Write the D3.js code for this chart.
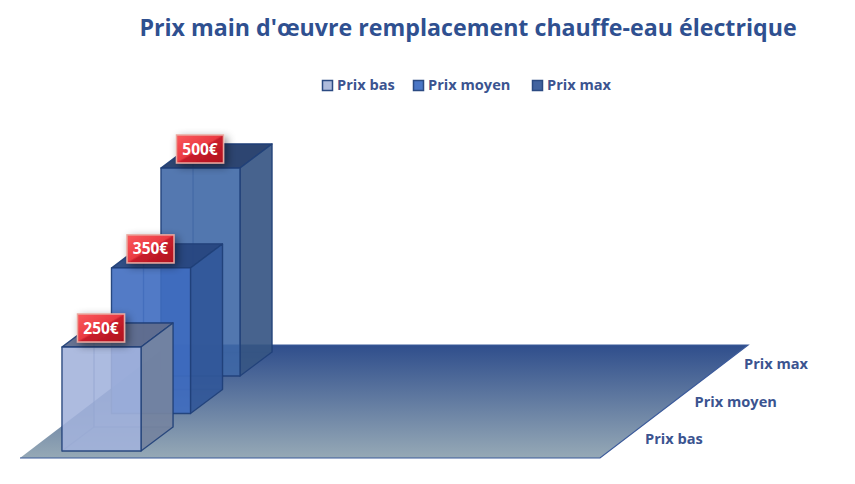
<!DOCTYPE html>
<html>
<head>
<meta charset="utf-8">
<script src="https://cdn.jsdelivr.net/npm/d3@7"></script>
<style>
  html, body { margin: 0; padding: 0; background: #fff; }
  svg { display: block; }
  text { font-family: "Open Sans", sans-serif; font-weight: 700; }
</style>
</head>
<body>
<div id="chart"></div>
<script>
var chartTitle = "Prix main d'œuvre remplacement chauffe-eau électrique";
var series = ["Prix bas", "Prix moyen", "Prix max"];
var values = [250, 350, 500];
var labels = ["250€", "350€", "500€"];

var width = 855, height = 484;
var titleColor = "#2f5090";
var textColor = "#3b5490";
var edgeColor = "#1f3f78";
var boxW = 79;     // front face width
var depthX = 32, depthY = 24;   // how far a box goes back

// face colours per series, [front, side, top]
var faces = {
    "Prix bas": ["#a3b3dc", "#74839f", "#5f6b8c"],
    "Prix moyen": ["#3d6bbf", "#315798", "#274680"],
    "Prix max": ["#3f68a6", "#365583", "#243c6a"]
};
var swatch = {"Prix bas": "#aebbdc", "Prix moyen": "#4a76c6", "Prix max": "#42639f"};

// depth scales: where the front of each box stands on the floor
var xDepth = d3.scalePoint().domain(series).range([62, 161]);
var yDepth = d3.scalePoint().domain(series).range([451, 376]);
// height in px of a box
var h = d3.scaleLinear().domain([0, 500]).range([0, 208]);

var svg = d3.select("#chart").append("svg")
    .attr("width", width)
    .attr("height", height);

var defs = svg.append("defs");

var floorGrad = defs.append("linearGradient")
    .attr("id", "floorGrad")
    .attr("x1", 0).attr("y1", 0).attr("x2", 0).attr("y2", 1);
floorGrad.append("stop").attr("offset", "0%").attr("stop-color", "#2f4e8c");
floorGrad.append("stop").attr("offset", "100%").attr("stop-color", "#96a9b6");

var redGrad = defs.append("linearGradient")
    .attr("id", "redGrad")
    .attr("x1", 0).attr("y1", 0).attr("x2", 1).attr("y2", 1);
redGrad.append("stop").attr("offset", "0%").attr("stop-color", "#fb5a5c");
redGrad.append("stop").attr("offset", "48%").attr("stop-color", "#ea3a42");
redGrad.append("stop").attr("offset", "52%").attr("stop-color", "#c91f2c");
redGrad.append("stop").attr("offset", "100%").attr("stop-color", "#ae0f1e");

var shadow = defs.append("filter").attr("id", "labelShadow")
    .attr("x", "-40%").attr("y", "-40%").attr("width", "180%").attr("height", "180%");
shadow.append("feDropShadow")
    .attr("dx", 3).attr("dy", 3).attr("stdDeviation", 4)
    .attr("flood-color", "#000").attr("flood-opacity", 0.45);

// title
svg.append("text")
    .attr("x", 468).attr("y", 36)
    .attr("text-anchor", "middle")
    .attr("font-size", 23.2)
    .attr("fill", titleColor)
    .text(chartTitle);

// legend
var legendX = [322, 413, 532];
var legend = svg.append("g").selectAll("g")
    .data(series)
    .enter().append("g")
    .attr("transform", function (d, i) { return "translate(" + legendX[i] + ",80)"; });
legend.append("rect")
    .attr("x", 0.5).attr("y", 0.5)
    .attr("width", 10).attr("height", 10)
    .attr("fill", function (d) { return swatch[d]; })
    .attr("stroke", "#2b4a82")
    .attr("stroke-width", 1.5);
legend.append("text")
    .attr("x", 15).attr("y", 10)
    .attr("font-size", 14.6)
    .attr("fill", textColor)
    .text(function (d) { return d; });

// floor
svg.append("polygon")
    .attr("points", "20,458 600,458 748,345 168,345")
    .attr("fill", "url(#floorGrad)");
svg.append("path")
    .attr("d", "M20,458 L600,458 L748,345 L168,345")
    .attr("fill", "none")
    .attr("stroke", "#3b5a9a")
    .attr("stroke-width", 1.2);

// category labels next to the floor
svg.append("g").selectAll("text")
    .data(series)
    .enter().append("text")
    .attr("x", function (d) { return xDepth(d) + 583; })
    .attr("y", function (d) { return yDepth(d) - 7; })
    .attr("font-size", 14.6)
    .attr("fill", textColor)
    .text(function (d) { return d; });

// boxes, back one first
var order = d3.range(series.length).reverse();
function poly(g, pts, fill, op, edge) {
    g.append("polygon")
        .attr("points", pts.map(function (p) { return p.join(","); }).join(" "))
        .attr("fill", fill)
        .attr("fill-opacity", op)
        .attr("stroke", edgeColor)
        .attr("stroke-opacity", edge)
        .attr("stroke-width", 1.3)
        .attr("stroke-linejoin", "round");
}
order.forEach(function (i) {
    var s = series[i];
    var x0 = xDepth(s), x1 = x0 + boxW;
    var yb = yDepth(s), yt = yb - h(values[i]);
    var g = svg.append("g");
    // hidden faces seen through the glass
    poly(g, [[x0 + depthX, yb - depthY], [x1 + depthX, yb - depthY], [x1 + depthX, yt - depthY], [x0 + depthX, yt - depthY]], faces[s][0], 0.2, 0.35);
    poly(g, [[x0, yb], [x0 + depthX, yb - depthY], [x0 + depthX, yt - depthY], [x0, yt]], faces[s][1], 0.1, 0.35);
    // visible faces
    poly(g, [[x0, yt], [x1, yt], [x1 + depthX, yt - depthY], [x0 + depthX, yt - depthY]], faces[s][2], 0.95, 0.9);
    poly(g, [[x1, yb], [x1 + depthX, yb - depthY], [x1 + depthX, yt - depthY], [x1, yt]], faces[s][1], 0.9, 0.9);
    poly(g, [[x0, yb], [x1, yb], [x1, yt], [x0, yt]], faces[s][0], 0.88, 0.9);
});

// value labels
var lab = svg.append("g").selectAll("g")
    .data(series)
    .enter().append("g")
    .attr("transform", function (d, i) {
        return "translate(" + (xDepth(d) + 39) + "," + (yDepth(d) - h(values[i]) - 19) + ")";
    });
lab.append("rect")
    .attr("x", -23.5).attr("y", -14)
    .attr("width", 47).attr("height", 28)
    .attr("fill", "url(#redGrad)")
    .attr("stroke", "#e8a9a0")
    .attr("stroke-width", 1.5)
    .attr("filter", "url(#labelShadow)");
lab.append("text")
    .attr("text-anchor", "middle")
    .attr("y", 5.5)
    .attr("font-size", 15.5)
    .attr("fill", "#fff")
    .text(function (d, i) { return labels[i]; });
</script>
</body>
</html>
